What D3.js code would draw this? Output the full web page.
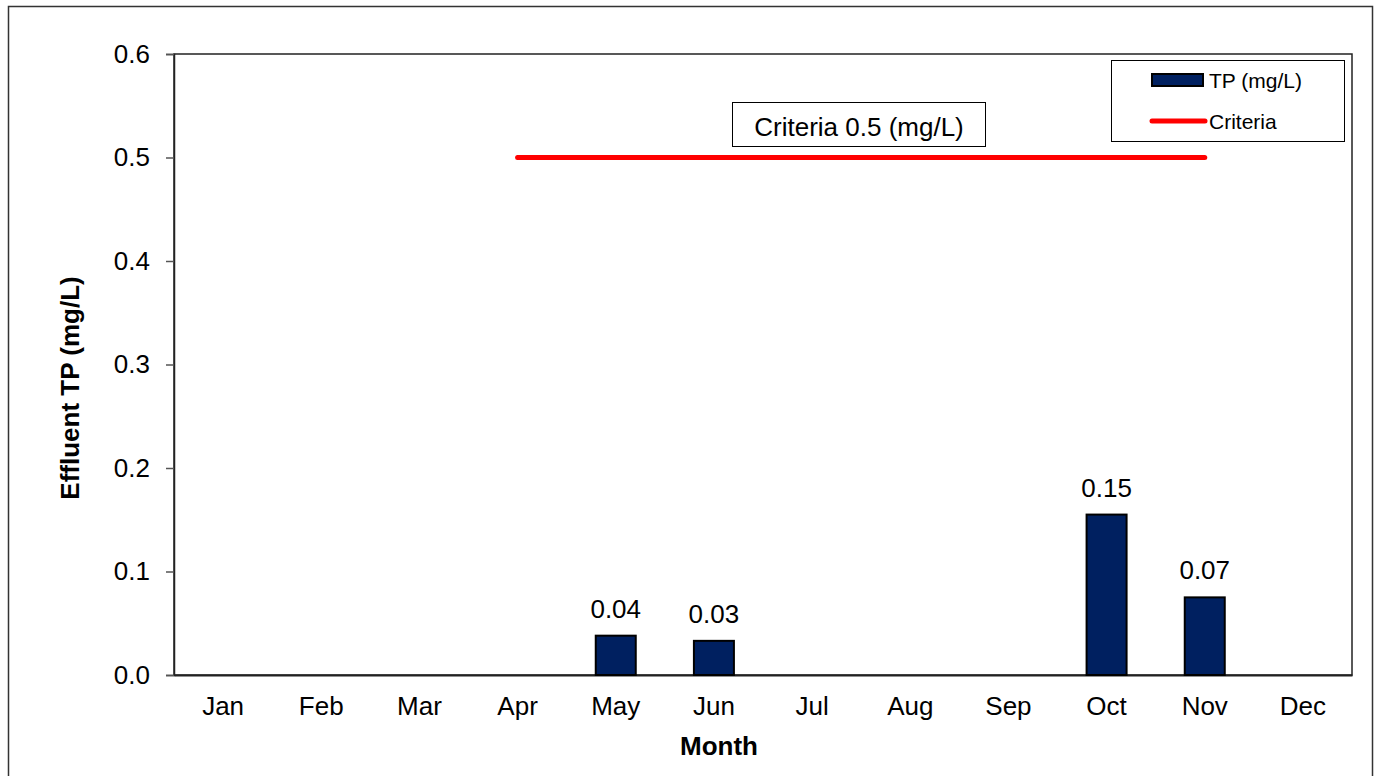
<!DOCTYPE html>
<html><head><meta charset="utf-8">
<script src="https://cdn.jsdelivr.net/npm/d3@7"></script>
<style>body{margin:0;background:#fff;}svg{display:block;font-family:"Liberation Sans",Arial,sans-serif;}</style>
</head><body>
<svg id="c" width="1386" height="776"></svg>
<script>
const months = ["Jan","Feb","Mar","Apr","May","Jun","Jul","Aug","Sep","Oct","Nov","Dec"];
const tpValues = [null,null,null,null,0.038,0.033,null,null,null,0.155,0.075,null];
const tpLabels = [null,null,null,null,"0.04","0.03",null,null,null,"0.15","0.07",null];
const criteriaMonths = ["Apr","Nov"];
const criteriaValue = 0.5;
const yTicks = [0,0.1,0.2,0.3,0.4,0.5,0.6];

const svg = d3.select("#c");
const L=174, R=1352, T=54, B=675;
const FS = 26;
const x = d3.scaleBand().domain(months).range([L,R]).paddingInner(0).paddingOuter(0);
const y = d3.scaleLinear().domain([0,0.6]).range([B,T]);

// outer frame
svg.append("rect").attr("x",8.5).attr("y",6.5).attr("width",1364).attr("height",800).attr("fill","none").attr("stroke","#333").attr("stroke-width",1.5);
// plot frame
svg.append("rect").attr("x",L).attr("y",T).attr("width",R-L).attr("height",B-T).attr("fill","none").attr("stroke","#222").attr("stroke-width",1.5);

// y axis
const ya = svg.append("g").attr("transform",`translate(${L},0)`)
  .call(d3.axisLeft(y).tickValues(yTicks).tickFormat(d3.format(".1f")).tickSize(8).tickPadding(16));
ya.attr("font-size",FS).attr("font-family","Liberation Sans, Arial, sans-serif");
ya.select(".domain").attr("stroke","#222").attr("stroke-width",1.5);
ya.selectAll(".tick line").attr("stroke","#555").attr("stroke-width",1.5);
ya.selectAll("text").attr("fill","#000");

// x axis
const xa = svg.append("g").attr("transform",`translate(0,${B})`)
  .call(d3.axisBottom(x).tickSize(0).tickPadding(22));
xa.attr("font-size",FS).attr("font-family","Liberation Sans, Arial, sans-serif");
xa.select(".domain").attr("stroke","#222").attr("stroke-width",2);
xa.selectAll("text").attr("fill","#000");

// bars
const bw = 40;
const data = months.map((m,i)=>({m, v:tpValues[i], lab:tpLabels[i]})).filter(d=>d.v!=null);
svg.selectAll("rect.bar").data(data).enter().append("rect").attr("class","bar")
  .attr("x",d=>x(d.m)+x.bandwidth()/2-bw/2).attr("y",d=>y(d.v))
  .attr("width",bw).attr("height",d=>y(0)-y(d.v))
  .attr("fill","#002060").attr("stroke","#000").attr("stroke-width",2);
svg.selectAll("text.lab").data(data).enter().append("text").attr("class","lab")
  .attr("x",d=>x(d.m)+x.bandwidth()/2).attr("y",d=>y(d.v)-18)
  .attr("text-anchor","middle").attr("font-size",FS).text(d=>d.lab);

// criteria line
svg.append("line")
  .attr("x1",x(criteriaMonths[0])+x.bandwidth()/2).attr("x2",x(criteriaMonths[1])+x.bandwidth()/2)
  .attr("y1",y(criteriaValue)).attr("y2",y(criteriaValue))
  .attr("stroke","#ff0000").attr("stroke-width",5).attr("stroke-linecap","round");

// annotation box
svg.append("rect").attr("x",732.5).attr("y",102.5).attr("width",253).attr("height",44).attr("fill","#fff").attr("stroke","#000").attr("stroke-width",1);
svg.append("text").attr("x",859).attr("y",136).attr("text-anchor","middle").attr("font-size",FS).text("Criteria 0.5 (mg/L)");

// legend
svg.append("rect").attr("x",1111.5).attr("y",60.5).attr("width",233).attr("height",81).attr("fill","#fff").attr("stroke","#000").attr("stroke-width",1);
svg.append("rect").attr("x",1152).attr("y",74).attr("width",51).attr("height",12).attr("fill","#002060").attr("stroke","#000").attr("stroke-width",2);
svg.append("text").attr("x",1209).attr("y",88).attr("font-size",21).text("TP (mg/L)");
svg.append("line").attr("x1",1152).attr("x2",1205).attr("y1",121).attr("y2",121).attr("stroke","#ff0000").attr("stroke-width",5).attr("stroke-linecap","round");
svg.append("text").attr("x",1209).attr("y",129).attr("font-size",21).text("Criteria");

// axis titles
svg.append("text").attr("x",719).attr("y",755).attr("text-anchor","middle").attr("font-size",FS).attr("font-weight","bold").text("Month");
svg.append("text").attr("transform",`translate(79,388) rotate(-90)`).attr("text-anchor","middle").attr("font-size",FS).attr("font-weight","bold").text("Effluent TP (mg/L)");
</script>
</body></html>
